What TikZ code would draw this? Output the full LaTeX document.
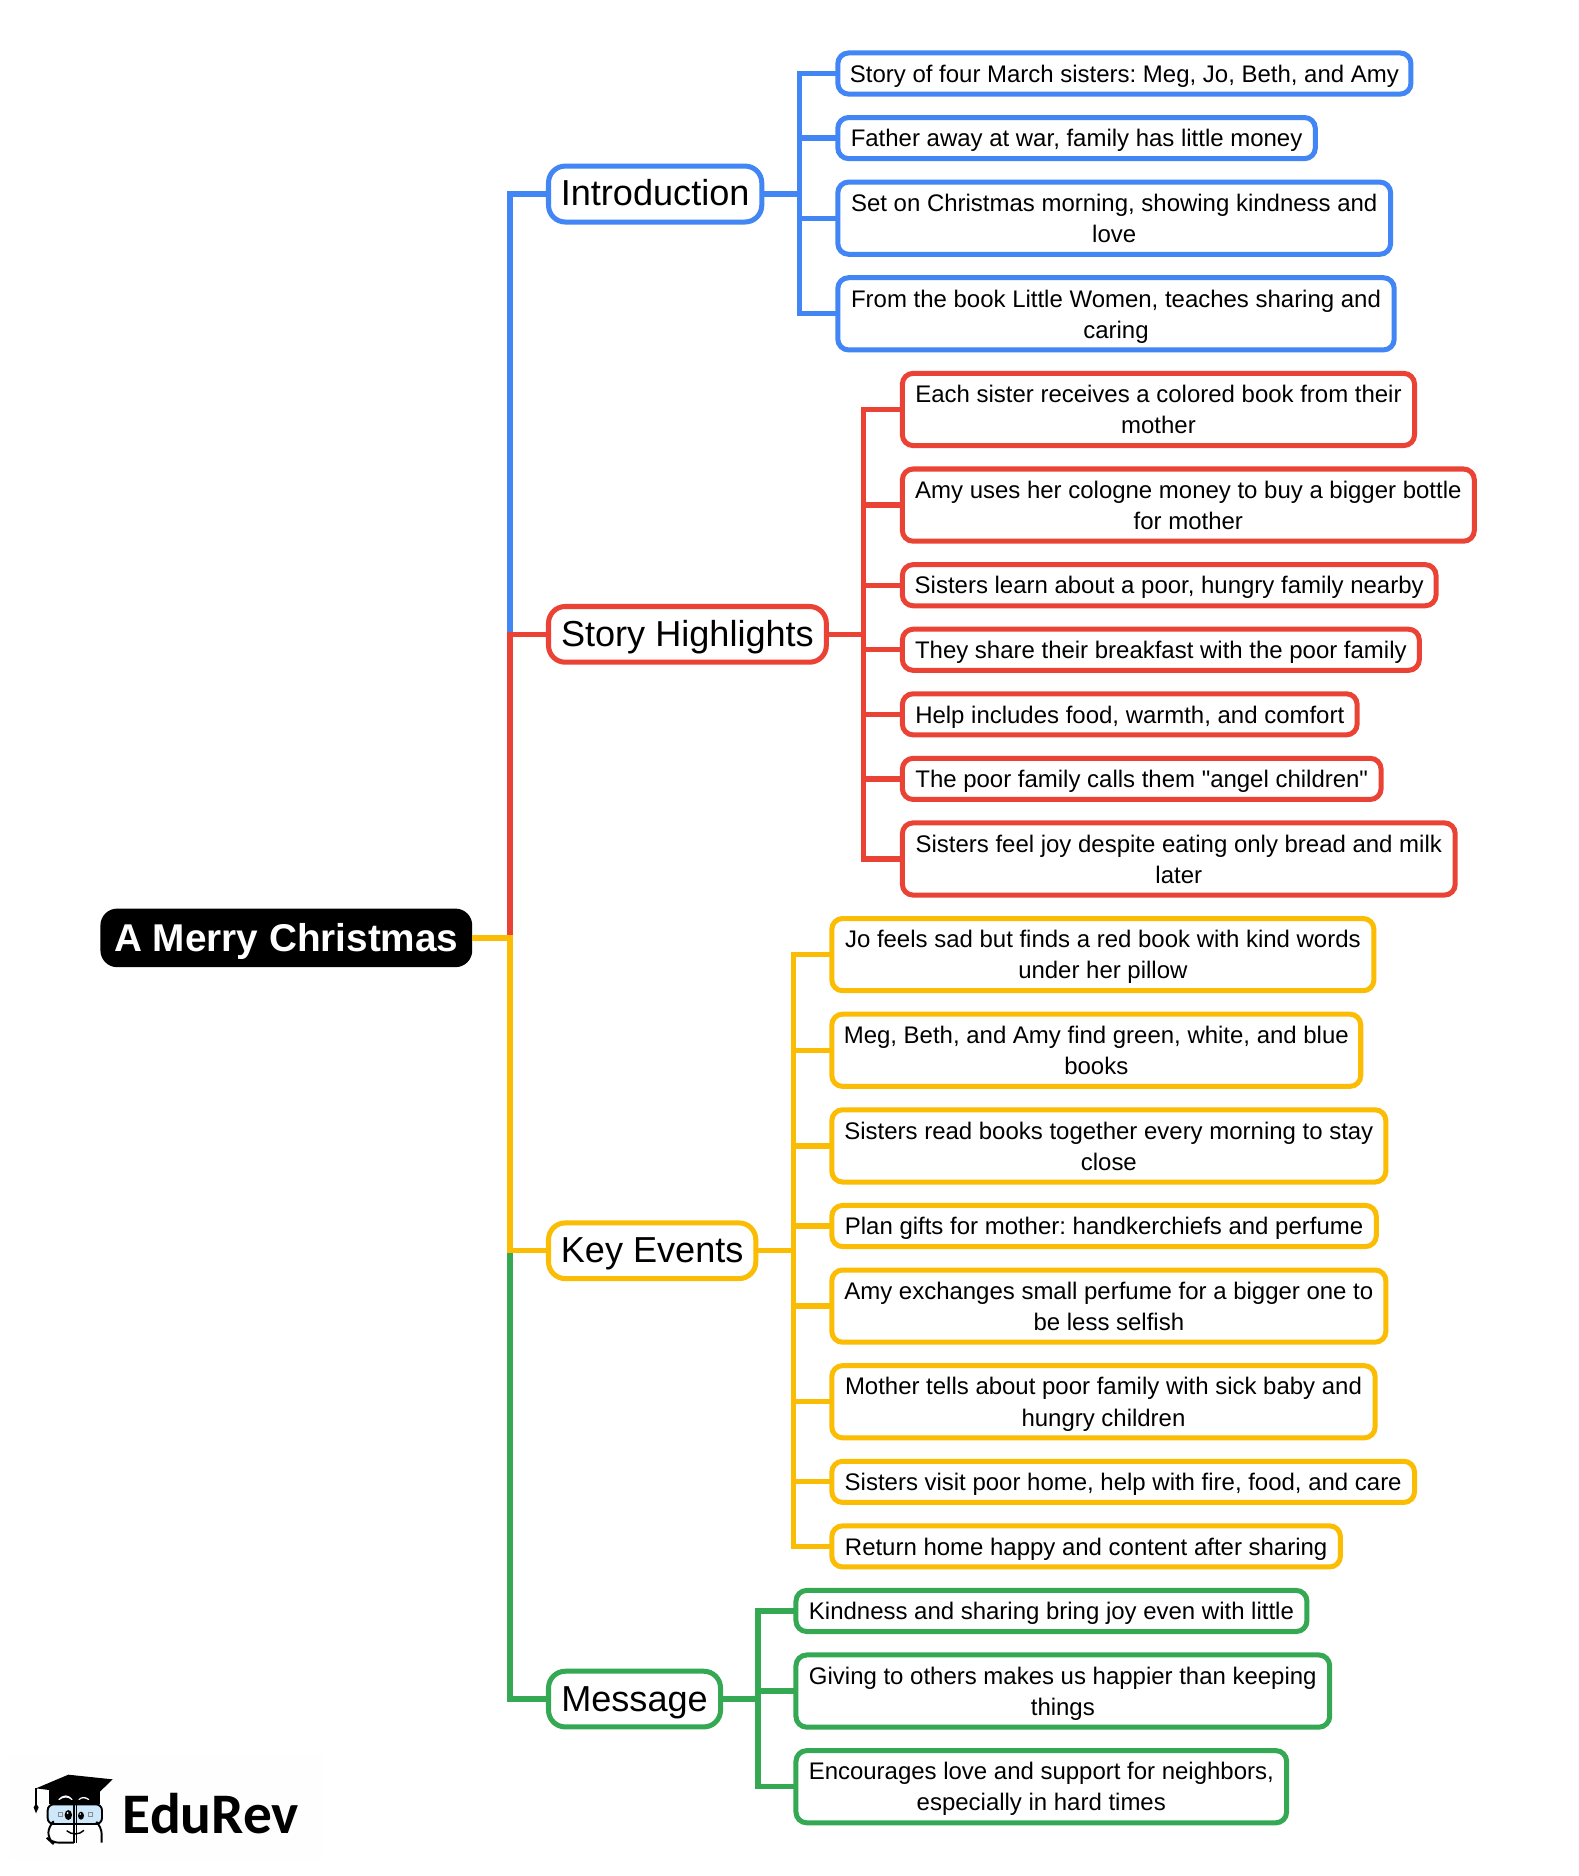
\documentclass[tikz,border=0pt]{standalone}
\usepackage{fontspec}
\setmainfont{Liberation Sans}
\newfontfamily\logofont{Carlito}
\newfontfamily\quotefont{Liberation Sans}
\definecolor{cblue}{HTML}{4285F4}
\definecolor{cred}{HTML}{EA4335}
\definecolor{cyellow}{HTML}{FBBC04}
\definecolor{cgreen}{HTML}{34A853}
\newcommand{\lstrut}{\rule[-5.4pt]{0pt}{25.4pt}}
\newcommand{\straightq}{{\quotefont\char34 }}
\tikzset{
  box/.style={draw=#1,fill=white,line width=4.2pt,outer sep=0pt,inner sep=0pt,align=center},
  leafbox/.style={box=#1,rounded corners=9pt,font=\fontsize{20.05pt}{26pt}\selectfont\frenchspacing},
  mainbox/.style={box=#1,rounded corners=14pt,text height=24pt,text depth=4pt,font=\fontsize{30.2pt}{36pt}\selectfont},
  rootbox/.style={fill=black,text=white,rounded corners=14pt,outer sep=0pt,inner sep=0pt,text height=26pt,text depth=4pt,font=\fontsize{32.4pt}{38pt}\selectfont\bfseries},
  link/.style={draw=#1,line width=4.4pt,miter limit=10,line join=miter},
}
\newcommand{\bx}[7]{%
  \pgfmathsetmacro\cxv{(#4+#6)/2}\pgfmathsetmacro\cyv{(#3+#5)/2}%
  \pgfmathsetmacro\wv{#6-#4-3.6}\pgfmathsetmacro\hv{#5-#3-2.6}%
  \node[#2,minimum width=\wv pt,minimum height=\hv pt] (#1) at (\cxv,\cyv) {#7};}
\newcommand{\lf}[7]{\bx{#1}{#2}{#3}{#4}{#5}{#6}{\lstrut #7\lstrut}}
\newcommand{\conn}[4]{\draw[link=#1] (#3.east) -- (#2 |- #3.east) -- (#2 |- #4.west) -- (#4.west);}
\begin{document}
\begin{tikzpicture}[x=1pt,y=-1pt]
\useasboundingbox (0,0) rectangle (1320,1569.2);
% root and main branches
\node[rootbox,minimum width=311pt,minimum height=49pt] (root) at (239.5,784.5) {A Merry Christmas};
\bx{intro}{mainbox=cblue}{137.6}{457}{187.0}{639}{Introduction}
\bx{story}{mainbox=cred}{506.0}{457}{555.2}{693}{Story Highlights}
\bx{key}{mainbox=cyellow}{1021.6}{457}{1070.8}{634}{Key Events}
\bx{msg}{mainbox=cgreen}{1396.6}{457}{1445.8}{604.5}{Message}
% introduction
\lf{a1}{leafbox=cblue}{43}{699}{80}{1182}{Story of four March sisters: Meg, Jo, Beth, and Amy}
\lf{a2}{leafbox=cblue}{97}{699}{134}{1102}{Father away at war, family has little money}
\lf{a3}{leafbox=cblue}{151}{699}{214}{1165}{Set on Christmas morning, showing kindness and\\love}
\lf{a4}{leafbox=cblue}{231}{699}{294}{1168}{From the book Little Women, teaches sharing and\\caring}
% story highlights
\lf{b1}{leafbox=cred}{311}{753}{374}{1185}{Each sister receives a colored book from their\\mother}
\lf{b2}{leafbox=cred}{391}{753}{454}{1235}{Amy uses her cologne money to buy a bigger bottle\\for mother}
\lf{b3}{leafbox=cred}{471}{753}{508}{1203}{Sisters learn about a poor, hungry family nearby}
\lf{b4}{leafbox=cred}{525}{753}{562}{1189}{They share their breakfast with the poor family}
\lf{b5}{leafbox=cred}{579}{753}{616}{1137}{Help includes food, warmth, and comfort}
\lf{b6}{leafbox=cred}{633}{753}{670}{1157}{The poor family calls them \straightq angel children\straightq}
\lf{b7}{leafbox=cred}{687}{753}{750}{1219}{Sisters feel joy despite eating only bread and milk\\later}
% key events
\lf{c1}{leafbox=cyellow}{767}{694}{830}{1151}{Jo feels sad but finds a red book with kind words\\under her pillow}
\lf{c2}{leafbox=cyellow}{847}{694}{910}{1140}{Meg, Beth, and Amy find green, white, and blue\\books}
\lf{c3}{leafbox=cyellow}{927}{694}{990}{1161}{Sisters read books together every morning to stay\\close}
\lf{c4}{leafbox=cyellow}{1007}{694}{1044}{1153}{Plan gifts for mother: handkerchiefs and perfume}
\lf{c5}{leafbox=cyellow}{1061}{694}{1124}{1161}{Amy exchanges small perfume for a bigger one to\\be less selfish}
\lf{c6}{leafbox=cyellow}{1141}{694}{1204}{1152}{Mother tells about poor family with sick baby and\\hungry children}
\lf{c7}{leafbox=cyellow}{1221}{694}{1258}{1185}{Sisters visit poor home, help with fire, food, and care}
\lf{c8}{leafbox=cyellow}{1275}{694}{1312}{1123}{Return home happy and content after sharing}
% message
\lf{d1}{leafbox=cgreen}{1329}{664}{1366}{1095}{Kindness and sharing bring joy even with little}
\lf{d2}{leafbox=cgreen}{1383}{664}{1446}{1114}{Giving to others makes us happier than keeping\\things}
\lf{d3}{leafbox=cgreen}{1463}{664}{1526}{1078}{Encourages love and support for neighbors,\\especially in hard times}
% branch rails
\coordinate (trunk) at (426.6,0);
\coordinate (railA) at (669,0);
\coordinate (railB) at (722.5,0);
\coordinate (railC) at (664,0);
\coordinate (railD) at (634,0);
% root connectors (order gives the colour segments of the trunk)
\conn{cblue}{trunk}{root}{intro}
\conn{cred}{trunk}{root}{story}
\conn{cgreen}{trunk}{root}{msg}
\conn{cyellow}{trunk}{root}{key}
% leaf connectors
\foreach \n in {a1,a2,a3,a4}{\conn{cblue}{railA}{intro}{\n}}
\foreach \n in {b1,b2,b3,b4,b5,b6,b7}{\conn{cred}{railB}{story}{\n}}
\foreach \n in {c1,c2,c3,c4,c5,c6,c7,c8}{\conn{cyellow}{railC}{key}{\n}}
\foreach \n in {d1,d2,d3}{\conn{cgreen}{railD}{msg}{\n}}
% logo
\begin{scope}[shift={(0,1422)},x=0.2788pt,y=-0.2788pt]
  \fill[black!0.4!white] (30,165) rectangle (970,480);
  % book/face
  \fill[black] (148,270) rectangle (300,312);
  \fill[white] (175,298) .. controls (190,282) and (205,282) .. (218,298) -- (215,300) .. controls (205,290) and (190,290) .. (178,300) -- cycle;
  \fill[white] (235,298) .. controls (245,288) and (258,288) .. (268,298) -- (265,300) .. controls (255,293) and (245,293) .. (238,300) -- cycle;
  \draw[black,line width=1.6pt,fill={rgb,255:red,205;green,232;blue,250},rounded corners=5pt] (143,313) rectangle (306,372);
  \draw[black,line width=1.6pt,rounded corners=6pt] (222,428) -- (156,428) -- (145,418) -- (145,378) -- (152,372);
  \draw[black,line width=1.6pt,rounded corners=6pt] (296,372) -- (305,380) -- (305,428);
  \draw[black,line width=1.6pt] (222,305) -- (222,430);
  \draw[black,line width=1.2pt] (229,305) -- (229,430);
  \fill[black] (205,345) ellipse (11 and 15);
  \fill[black] (243,347) ellipse (9 and 12);
  \fill[white] (203,339) circle (3);
  \fill[white] (241,342) circle (2.5);
  \draw[black!45,line width=0.8pt] (174,337) rectangle (186,348);
  \draw[black!45,line width=0.8pt] (265,337) rectangle (277,348);
  \draw[black,line width=1.2pt] (200,392) .. controls (215,405) and (238,405) .. (252,391);
  % cap
  \fill[black] (108,265) -- (205,224) -- (338,238) -- (278,296) -- (210,280) -- (148,270) -- cycle;
  \draw[black,line width=1.2pt] (108,265) -- (108,315);
  \fill[black] (108,310) -- (116,322) -- (108,340) -- (101,322) -- cycle;
  % wordmark
  \node[anchor=base west,inner sep=0pt,font=\fontsize{48pt}{50pt}\selectfont\logofont\bfseries] (brand) at (368,400) {EduRev};
\end{scope}
\end{tikzpicture}
\end{document}
